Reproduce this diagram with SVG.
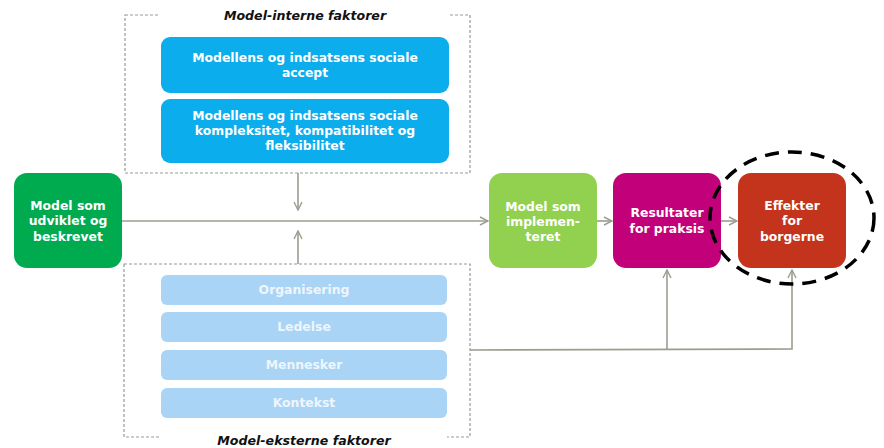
<svg xmlns="http://www.w3.org/2000/svg" width="884" height="448" viewBox="0 0 884 448">
<style>
.t{font-family:"DejaVu Sans",Verdana,sans-serif;font-weight:bold;font-size:12.4px;fill:#fff;text-anchor:middle}
.lt{font-family:"DejaVu Sans",Verdana,sans-serif;font-weight:bold;font-size:12.4px;fill:#eef6fd;text-anchor:middle}
.ttl{font-family:"DejaVu Sans",Verdana,sans-serif;font-weight:bold;font-style:italic;font-size:12.6px;fill:#111;text-anchor:middle}
.dbox{fill:none;stroke:#9a9a9a;stroke-width:1.2;stroke-dasharray:3,2}
.con{fill:none;stroke:#9d9c90;stroke-width:1.6}
</style>
<defs>
<marker id="ah" viewBox="0 0 10 10" refX="9" refY="5" markerWidth="10" markerHeight="10" markerUnits="userSpaceOnUse" orient="auto">
<polyline points="1,1 9,5 1,9" fill="none" stroke="#9d9c90" stroke-width="1.4"/>
</marker>
</defs>
<rect width="884" height="448" fill="#fff"/>
<g id="interne">
<rect class="dbox" x="125" y="15" width="345" height="158"/>
<rect x="160" y="2" width="288" height="28" rx="8" fill="#fff"/>
<text class="ttl" x="305" y="20">Model-interne faktorer</text>
</g>
<g id="accept">
<rect x="161" y="37" width="288" height="56" rx="9" fill="#0badec"/>
<text class="t" x="305" y="62">Modellens og indsatsens sociale</text>
<text class="t" x="305" y="77">accept</text>
</g>
<g id="kompleksitet">
<rect x="161" y="99" width="288" height="64" rx="9" fill="#0badec"/>
<text class="t" x="305" y="120">Modellens og indsatsens sociale</text>
<text class="t" x="305" y="135">kompleksitet, kompatibilitet og</text>
<text class="t" x="305" y="150">fleksibilitet</text>
</g>
<g id="eksterne">
<rect class="dbox" x="124" y="264" width="346" height="173"/>
<rect x="161" y="426" width="286" height="24" rx="6" fill="#fff"/>
<text class="ttl" x="304" y="445">Model-eksterne faktorer</text>
</g>
<g id="organisering">
<rect x="161" y="275" width="286" height="30" rx="6" fill="#a9d4f5"/>
<text class="lt" x="304" y="294">Organisering</text>
</g>
<g id="ledelse">
<rect x="161" y="312" width="286" height="30" rx="6" fill="#a9d4f5"/>
<text class="lt" x="304" y="331">Ledelse</text>
</g>
<g id="mennesker">
<rect x="161" y="350" width="286" height="30" rx="6" fill="#a9d4f5"/>
<text class="lt" x="304" y="369">Mennesker</text>
</g>
<g id="kontekst">
<rect x="161" y="388" width="286" height="30" rx="6" fill="#a9d4f5"/>
<text class="lt" x="304" y="407">Kontekst</text>
</g>
<g id="connectors">
<line class="con" x1="122" y1="221" x2="488" y2="221" marker-end="url(#ah)"/>
<line class="con" x1="298" y1="173" x2="298" y2="210" marker-end="url(#ah)"/>
<line class="con" x1="298" y1="264" x2="298" y2="231" marker-end="url(#ah)"/>
<line class="con" x1="597" y1="221" x2="612" y2="221" marker-end="url(#ah)"/>
<line class="con" x1="721" y1="221" x2="737" y2="221" marker-end="url(#ah)"/>
<polyline class="con" points="470,350 792,349 792,270" marker-end="url(#ah)"/>
<line class="con" x1="667" y1="350" x2="667" y2="270" marker-end="url(#ah)"/>
</g>
<g id="udviklet">
<rect x="14" y="173" width="108" height="95" rx="13" fill="#00aa4f"/>
<text class="t" x="68" y="210">Model som</text>
<text class="t" x="68" y="225">udviklet og</text>
<text class="t" x="68" y="241">beskrevet</text>
</g>
<g id="implementeret">
<rect x="489" y="173" width="108" height="95" rx="13" fill="#92d050"/>
<text class="t" x="543" y="211">Model som</text>
<text class="t" x="543" y="226">implemen-</text>
<text class="t" x="543" y="241">teret</text>
</g>
<g id="resultater">
<rect x="613" y="173" width="108" height="95" rx="13" fill="#c2007a"/>
<text class="t" x="667" y="217">Resultater</text>
<text class="t" x="667" y="233">for praksis</text>
</g>
<g id="effekter">
<rect x="738" y="173" width="108" height="95" rx="13" fill="#c4331b"/>
<text class="t" x="792" y="210">Effekter</text>
<text class="t" x="792" y="225">for</text>
<text class="t" x="792" y="241">borgerne</text>
</g>
<g id="highlight">
<ellipse cx="792" cy="218" rx="82" ry="66" fill="none" stroke="#000" stroke-width="3.5" stroke-dasharray="14,9"/>
</g>
</svg>
